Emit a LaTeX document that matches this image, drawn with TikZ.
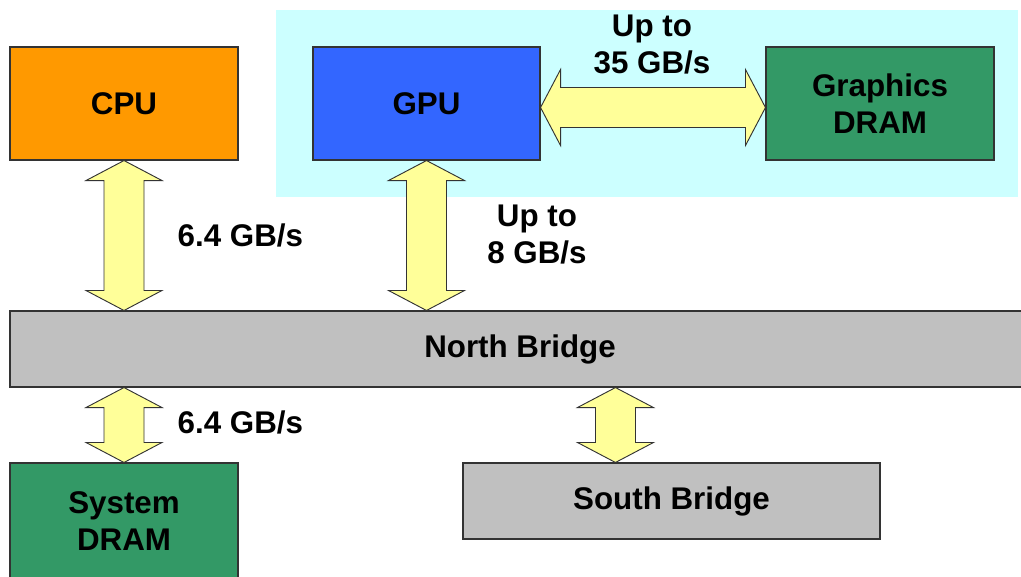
\documentclass[tikz,border=0pt]{standalone}
\usepackage{fontspec}
\setmainfont{Liberation Sans}
\usepackage{tikz}
\usepackage{xcolor}
\usetikzlibrary{positioning,calc}

\definecolor{cpuorange}{HTML}{FF9900}
\definecolor{gpublue}{HTML}{3366FF}
\definecolor{dramgreen}{HTML}{339966}
\definecolor{bridgegray}{HTML}{C0C0C0}
\definecolor{zonecyan}{HTML}{CCFFFF}
\definecolor{busyellow}{HTML}{FFFF99}

\tikzset{
    unit/.style={draw=black!80, line width=0.8pt, minimum width=171pt, minimum height=84.75pt,
        align=center, font=\bfseries\fontsize{23.5}{27.75}\selectfont},
    bridge/.style={unit, fill=bridgegray, minimum height=57pt},
    rate/.style={align=center, font=\bfseries\fontsize{23.5}{27.75}\selectfont},
    bus/.style={draw=black!80, line width=0.7pt, fill=busyellow, line join=miter}
}

% fat double arrows between two anchors
\newcommand{\vbus}[2]{%
    \draw[bus] let \p1=(#1), \p2=(#2) in
        (\x1,\y1) -- (\x1+28.5pt,\y1-15pt) -- (\x1+15pt,\y1-15pt) -- (\x1+15pt,\y2+15pt)
        -- (\x1+28.5pt,\y2+15pt) -- (\x1,\y2) -- (\x1-28.5pt,\y2+15pt) -- (\x1-15pt,\y2+15pt)
        -- (\x1-15pt,\y1-15pt) -- (\x1-28.5pt,\y1-15pt) -- cycle;}
\newcommand{\hbus}[2]{%
    \draw[bus] let \p1=(#1), \p2=(#2) in
        (\x1,\y1) -- (\x1+15pt,\y1+28.5pt) -- (\x1+15pt,\y1+15pt) -- (\x2-15pt,\y1+15pt)
        -- (\x2-15pt,\y1+28.5pt) -- (\x2,\y1) -- (\x2-15pt,\y1-28.5pt) -- (\x2-15pt,\y1-15pt)
        -- (\x1+15pt,\y1-15pt) -- (\x1+15pt,\y1-28.5pt) -- cycle;}

\begin{document}
\begin{tikzpicture}[x=0.75pt, y=-0.75pt]
    \useasboundingbox (0,0) rectangle (1021,576);

    % Graphics card area
    \fill[zonecyan] (276,10) rectangle (1018,197);

    % Units
    \node[unit, fill=cpuorange] (cpu) at (124,103.5) {CPU};
    \node[unit, fill=gpublue, minimum width=170.25pt] (gpu) at (426.5,103.5) {GPU};
    \node[unit, fill=dramgreen] (gdram) at (880,103.5) {Graphics\\DRAM};
    \node[bridge, minimum width=765pt] (nb) at (520,349) {North Bridge};
    \node[unit, fill=dramgreen, minimum height=87.75pt] (sysdram) at (124,521.5) {System\\DRAM};
    \node[bridge, minimum width=312.75pt] (sb) at (671.5,501) {South Bridge};
    \coordinate (gputap) at ($(gpu.east)+(0,4)$);
    \coordinate (sbtap) at ($(sb.north west)+(153,0)$);

    % Buses
    \hbus{gputap}{gdram.west}
    \vbus{cpu.south}{nb.north -| cpu.south}
    \vbus{gpu.south}{nb.north -| gpu.south}
    \vbus{sysdram.north |- nb.south}{sysdram.north}
    \vbus{sbtap |- nb.south}{sbtap}

    % Bandwidth labels
    \node[rate] (r35) at (652,45) {Up to\\35 GB/s};
    \node[rate, anchor=west] (rcpu) at (173,235) {6.4 GB/s};
    \node[rate] (rgpu) at (537,235) {Up to\\8 GB/s};
    \node[rate, anchor=west] (rmem) at (173,422) {6.4 GB/s};
\end{tikzpicture}
\end{document}
